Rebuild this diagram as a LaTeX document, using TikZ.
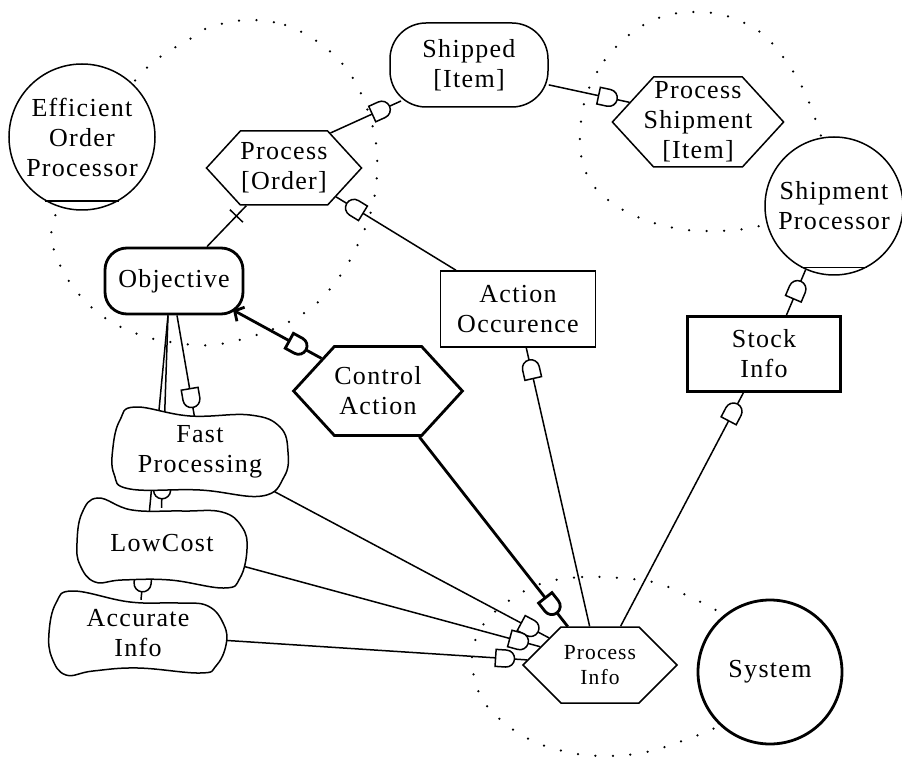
\documentclass[tikz,border=0pt]{standalone}
\usepackage{fontspec}
\setmainfont{Liberation Serif}[LetterSpace=5.0]
\usetikzlibrary{shapes.symbols,shapes.misc,decorations.markings,arrows.meta,calc}
\pgfdeclarelayer{bg}
\pgfsetlayers{bg,main}

\tikzset{
  normline/.style={line width=1.5pt},
  boldline/.style={line width=2.8pt},
  lbl/.style={font=\fontsize{26}{30}\selectfont, align=center, inner sep=0pt},
  hexbox/.style={lbl, signal, signal to=east and west, signal pointer angle=95,
                 draw, fill=white, normline},
  rectbox/.style={lbl, rectangle, draw, fill=white, normline},
  roundbox/.style={lbl, rectangle, draw, fill=white, normline},
  circnode/.style={lbl, circle, draw, fill=white, normline},
  blobtext/.style={lbl, rectangle},
  blobline/.style={draw, fill=white, normline},
  dotline/.style={line width=2.5pt, dash pattern=on 0pt off 17.5pt, line cap=round},
  conn/.style={normline},
  boldconn/.style={boldline},
  gatesym/.style={rounded rectangle, rounded rectangle west arc=none, draw, fill=white,
                  inner sep=0pt, minimum width=19pt, minimum height=17pt, transform shape},
  gated/.style={postaction={decorate, decoration={markings,
                mark=at position -#1 with {\node[gatesym]{};}}}},
  gated/.default=22pt,
  tickmark/.style={draw, rectangle, minimum width=0pt, minimum height=18pt,
                   inner sep=0pt, sloped, normline}
}

\begin{document}
\begin{tikzpicture}[x=1pt, y=-1pt]
\useasboundingbox (0,0) rectangle (902,759);

% wavy goal outlines
\begin{scope}[shift={(200,452)}]
  \draw[blobline] plot[smooth cycle, tension=0.7] coordinates {
    (-65,-45) (-10,-36) (50,-37) (80,-25) (88,0) (84,25) (62,44) (0,38)
    (-70,37) (-86,22) (-87,-5) (-80,-32)};
\end{scope}
\begin{scope}[shift={(162,543)}]
  \draw[blobline] plot[smooth cycle, tension=0.7] coordinates {
    (-64,-45) (-30,-33) (20,-32) (60,-31) (80,-16) (85,6) (78,35) (62,45)
    (8,37) (-40,37) (-67,39) (-82,22) (-85,0) (-80,-30)};
\end{scope}
\begin{scope}[shift={(138,633)}]
  \draw[blobline] plot[smooth cycle, tension=0.7] coordinates {
    (-65,-42) (-8,-31) (40,-30) (70,-27) (86,-8) (88,12) (78,33) (62,40)
    (0,35) (-45,38) (-72,42) (-86,25) (-89,0) (-82,-30)};
\end{scope}

% nodes
\node[circnode, minimum size=146pt] (eop) at (82,137) {Efficient\\Order\\Processor};
\node[circnode, minimum size=138pt] (sp) at (834,206) {Shipment\\Processor};
\node[circnode, boldline, minimum size=144pt] (sys) at (770,672) {System};
\node[roundbox, minimum width=158pt, minimum height=84pt, rounded corners=36pt]
  (ship) at (469,65) {Shipped\\{[Item]}};
\node[hexbox, minimum width=153pt, minimum height=74pt] (porder) at (284,168) {Process\\{[Order]}};
\node[hexbox, inner xsep=-10pt, minimum width=170pt, minimum height=90pt] (pship) at (698,122)
  {Process\\Shipment\\{[Item]}};
\node[hexbox, boldline, minimum width=168pt, minimum height=89pt] (ca) at (378,391) {Control\\Action};
\node[hexbox, signal pointer angle=90, minimum width=154pt, minimum height=76pt,
      font=\fontsize{21.5}{25}\selectfont] (pi) at (600,665) {Process\\Info};
\node[rectbox, minimum width=155pt, minimum height=76pt] (ao) at (518,309) {Action\\Occurence};
\node[rectbox, boldline, minimum width=153pt, minimum height=75pt] (si) at (764,354) {Stock\\Info};
\node[roundbox, boldline, minimum width=138pt, minimum height=66pt, rounded corners=22pt]
  (obj) at (174,281) {Objective};
\node[blobtext, minimum width=150pt, minimum height=64pt] (fast) at (200,452) {Fast\\Processing};
\node[blobtext, minimum width=150pt, minimum height=70pt] (low) at (162,543) {LowCost};
\node[blobtext, minimum width=150pt, minimum height=66pt] (acc) at (138,633) {Accurate\\Info};

% agent base lines
\draw[normline] (eop.240) -- (eop.300);
\draw[normline] (sp.242) -- (sp.298);

\begin{pgfonlayer}{bg}
  % boundaries
  \draw[dotline] plot[smooth cycle, tension=0.6] coordinates {
    (248,20) (285,25) (318,42) (345,67) (363,98) (375,137) (377,173) (372,208)
    (360,240) (342,273) (317,303) (287,323) (250,337) (212,345) (177,343)
    (140,335) (105,318) (77,292) (58,260) (53,223) (88,145) (133,83) (160,57)
    (190,39) (210,27)};
  \draw[dotline] plot[smooth cycle, tension=0.6] coordinates {
    (615,48) (597,72) (585,100) (580,133) (582,160) (593,185) (615,205)
    (645,220) (680,229) (715,231) (750,228) (790,215) (815,180) (822,145)
    (815,118) (800,83) (780,53) (760,32) (730,17) (700,12) (668,15) (640,27)};
  \draw[dotline] plot[smooth cycle, tension=0.6] coordinates {
    (543,583) (582,577) (620,578) (657,583) (692,598) (720,613) (748,640)
    (760,675) (745,710) (717,727) (685,740) (647,752) (608,756) (572,753)
    (535,742) (503,722) (480,695) (472,657) (483,625) (510,600)};

  % links
  \draw[conn] (porder.225) -- node[tickmark, pos=.25]{} ([xshift=33pt]obj.north);
  \draw[conn, gated] (porder.37) -- ([shift={(-68,36)}]ship.center);
  \draw[conn, gated] (ship.-14) -- (pship.164);
  \draw[conn, gated] (ao.148) -- (porder.331);
  \draw[conn, gated] (pi.105) -- (ao.282);
  \draw[conn, gated] (pi.62) -- (si.242);
  \draw[conn, gated] (si.60) -- (sp.246);
  \draw[conn, gated] ([xshift=3pt]obj.south) -- ([xshift=-5pt]fast.north);
  \draw[conn, gated=18.5pt] ([xshift=-6pt]obj.south) -- ([xshift=-0.5pt]low.north);
  \draw[conn, gated=17.5pt] ([xshift=-6pt]obj.south) -- ([xshift=3pt]acc.north);
  \draw[conn, gated] (fast.-28) -- (pi.152);
  \draw[conn, gated] (low.-16) -- (pi.163);
  \draw[conn, gated] (acc.-5) -- (pi.176);
  \draw[boldconn, gated=27pt] (ca.312) -- (pi.130);
  \draw[boldconn, gated=27pt, {Straight Barb[length=7pt,width=16pt]}-]
    ([shift={(59,29)}]obj.center) -- (ca.150);
\end{pgfonlayer}
\end{tikzpicture}
\end{document}
